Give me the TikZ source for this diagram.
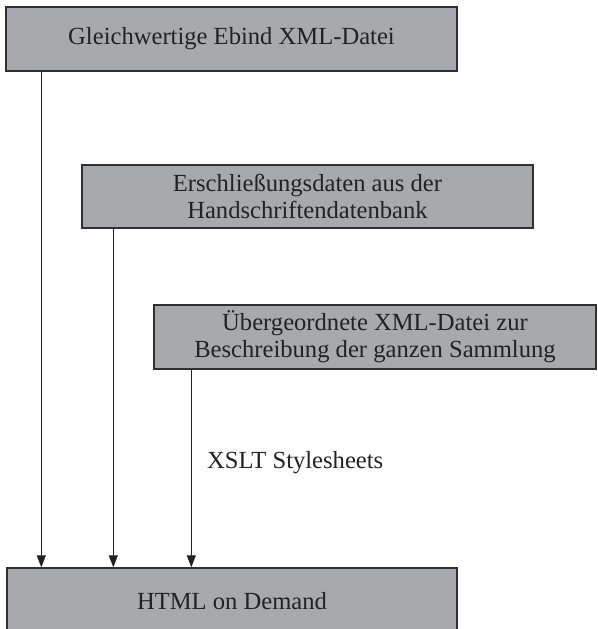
\documentclass[tikz,border=0pt]{standalone}
\usepackage{fontspec}
\setmainfont{Liberation Serif}
\usetikzlibrary{arrows.meta}
\definecolor{boxfill}{RGB}{168,169,173}
\definecolor{boxline}{RGB}{48,48,50}
\definecolor{ink}{RGB}{34,34,36}
\begin{document}
\begin{tikzpicture}[x=1pt,y=-1pt,
  box/.style={draw=boxline, line width=1.4pt, fill=boxfill, inner sep=0pt,
    align=center, text=ink, font=\fontsize{24.6}{27}\selectfont},
  flow/.style={draw=ink, line width=1.2pt, -{Triangle[length=12pt,width=9pt]}},
  lbl/.style={text=ink, inner sep=0pt, font=\fontsize{24.6}{27}\selectfont}]
\useasboundingbox (0,0) rectangle (597,629);

% source documents
\node[box, minimum width=451pt, minimum height=64pt] (ebind) at (231.5,39)
  {Gleichwertige Ebind XML-Datei};
\node[box, minimum width=451pt, minimum height=63pt] (hsdb) at (307.5,196.5)
  {Erschließungsdaten aus der\\Handschriftendatenbank};
\node[box, minimum width=442pt, minimum height=64pt] (coll) at (375,337)
  {Übergeordnete XML-Datei zur\\Beschreibung der ganzen Sammlung};

% generated output
\node[box, minimum width=450pt, minimum height=66pt] (html) at (232,601)
  {HTML on Demand};

% transformation arrows
\path ([xshift=36pt]ebind.south west) coordinate (s1)
      ([xshift=32pt]hsdb.south west) coordinate (s2)
      ([xshift=38pt]coll.south west) coordinate (s3);
\draw[flow] (s1) -- (s1 |- html.north);
\draw[flow] (s2) -- (s2 |- html.north);
\draw[flow] (s3) -- (s3 |- html.north);

\node[lbl, anchor=base west] (xslt) at (207,468) {XSLT Stylesheets};
\end{tikzpicture}
\end{document}
